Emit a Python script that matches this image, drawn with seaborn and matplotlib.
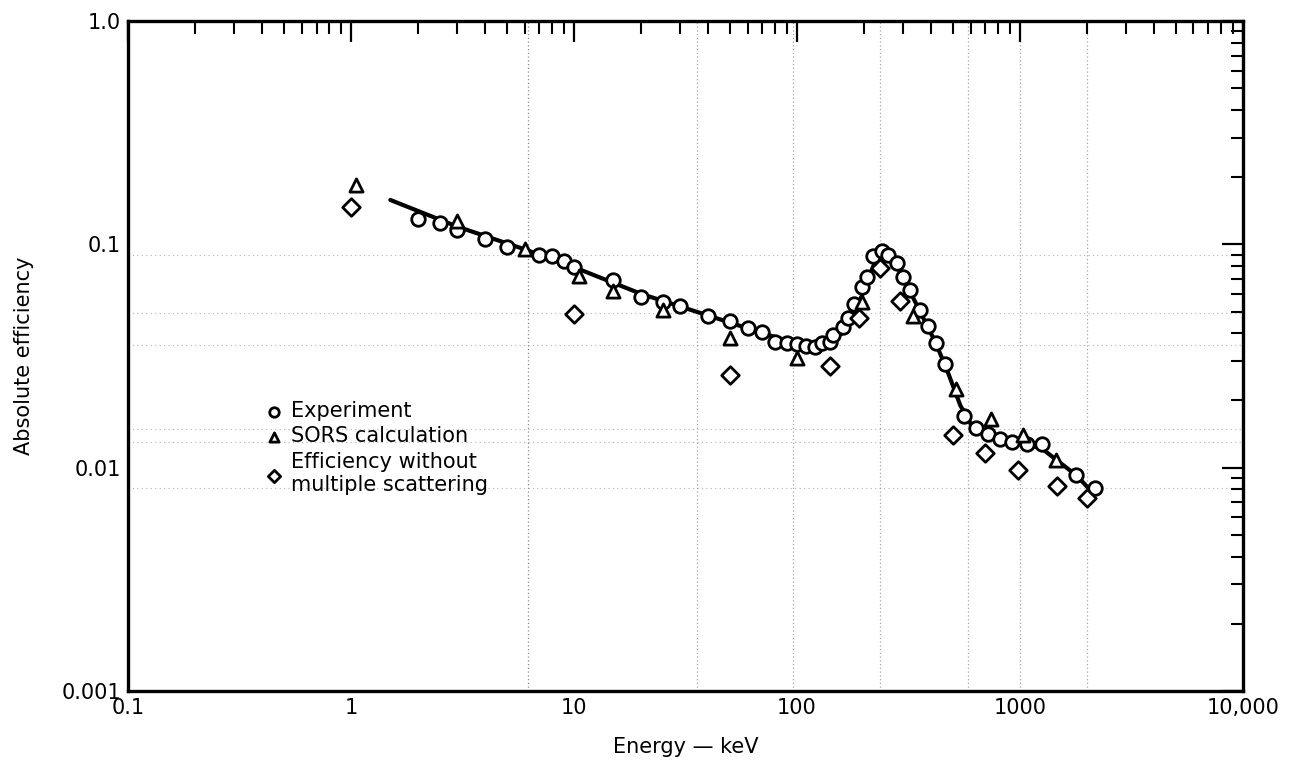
import numpy as np
import pandas as pd
import seaborn as sns
import matplotlib.pyplot as plt
from matplotlib.ticker import FixedLocator, FixedFormatter, LogLocator, NullFormatter

# === data (energy in keV, absolute efficiency) ===
exp_e = [2, 2.5, 3, 4, 5, 7, 8, 9, 10, 15, 20, 25, 30, 40, 50, 60, 70, 80, 90,
         100, 110, 120, 130, 140, 145, 160, 170, 180, 195, 205, 220, 240, 255,
         280, 300, 320, 355, 385, 420, 460, 560, 635, 720, 810, 920, 1070, 1250,
         1780, 2170]
exp_eff = [0.13, 0.124, 0.116, 0.106, 0.097, 0.090, 0.0886, 0.0845, 0.079, 0.069,
           0.058, 0.055, 0.053, 0.048, 0.0455, 0.042, 0.0406, 0.0366, 0.036,
           0.0357, 0.0351, 0.0348, 0.036, 0.0366, 0.0392, 0.0428, 0.0469, 0.054,
           0.0646, 0.0716, 0.0887, 0.0933, 0.0896, 0.0822, 0.0716, 0.0624, 0.0508,
           0.0432, 0.036, 0.029, 0.017, 0.0151, 0.0141, 0.0134, 0.013, 0.0127,
           0.0127, 0.0093, 0.0081]

sors_e = [1.05, 3, 6, 10.5, 15, 25, 50, 100, 195, 330, 515, 745, 1030, 1450]
sors_eff = [0.185, 0.127, 0.095, 0.072, 0.062, 0.051, 0.038, 0.031, 0.055, 0.048,
            0.0225, 0.0166, 0.014, 0.0108]

nms_e = [1.0, 10, 50, 140, 190, 235, 290, 500, 700, 980, 1470, 2000]
nms_eff = [0.147, 0.049, 0.026, 0.0285, 0.047, 0.078, 0.056, 0.014, 0.0116,
           0.0098, 0.0083, 0.0073]

# hand drawn curve through the experiment
curve_e = [1.5, 3, 6, 10, 20, 40, 70, 100, 130, 160, 190, 220, 245, 270, 310, 360,
           420, 480, 540, 600, 700, 850, 1000, 1250, 1500, 1800, 2050]
curve_eff = [0.158, 0.12, 0.095, 0.079, 0.06, 0.048, 0.04, 0.036, 0.0355, 0.040,
             0.055, 0.080, 0.093, 0.086, 0.066, 0.049, 0.036, 0.026, 0.019, 0.0158,
             0.0143, 0.0134, 0.0129, 0.0122, 0.0106, 0.0092, 0.0080]

x_ticks = [0.1, 1, 10, 100, 1000, 10000]
x_labels = ["0.1", "1", "10", "100", "1000", "10,000"]
y_ticks = [0.001, 0.01, 0.1, 1.0]
y_labels = ["0.001", "0.01", "0.1", "1.0"]

# faint lines of the graph paper showing through the scan
paper_x = [6.2, 35.6, 96, 235, 585, 1000, 2000]
paper_y = [0.0896, 0.0492, 0.0354, 0.0149, 0.013, 0.0081]

sns.set_theme(style="white", rc={"text.color": "black", "axes.labelcolor": "black",
                                 "xtick.color": "black", "ytick.color": "black"})
plt.rcParams['font.family'] = ['DejaVu Sans']

fig = plt.figure(figsize=(13.07, 7.69), dpi=100)
ax = fig.add_axes([0.098, 0.1014, 0.853, 0.8713])
ax.set_xscale("log")
ax.set_yscale("log")
ax.set_xlim(0.1, 10000)
ax.set_ylim(0.001, 1.0)

for i, v in enumerate(paper_x):
    ax.axvline(v, color="0.35" if i == 0 else "0.5", lw=0.9, ls=(0, (1, 2)),
               alpha=0.7, zorder=0)
for v in paper_y:
    ax.axhline(v, color="0.5", lw=0.8, ls=(0, (1, 3)), alpha=0.6, zorder=0)

df_curve = pd.DataFrame({"E": curve_e, "eff": curve_eff})
sns.lineplot(data=df_curve, x="E", y="eff", sort=False, color="black", lw=3.0, ax=ax,
             zorder=2)

df_exp = pd.DataFrame({"E": exp_e, "eff": exp_eff})
df_sors = pd.DataFrame({"E": sors_e, "eff": sors_eff})
df_nms = pd.DataFrame({"E": nms_e, "eff": nms_eff})

kw = dict(facecolor="white", edgecolor="black", linewidth=2.0, ax=ax, zorder=3)
sns.scatterplot(data=df_exp, x="E", y="eff", marker="o", s=95, label="Experiment", **kw)
sns.scatterplot(data=df_sors, x="E", y="eff", marker="^", s=90, label="SORS calculation", **kw)
sns.scatterplot(data=df_nms, x="E", y="eff", marker="D", s=80,
                label="Efficiency without\nmultiple scattering", **kw)

ax.xaxis.set_major_locator(FixedLocator(x_ticks))
ax.xaxis.set_major_formatter(FixedFormatter(x_labels))
ax.xaxis.set_minor_locator(LogLocator(base=10, subs=np.arange(2, 10)))
ax.xaxis.set_minor_formatter(NullFormatter())
ax.yaxis.set_major_locator(FixedLocator(y_ticks))
ax.yaxis.set_major_formatter(FixedFormatter(y_labels))
ax.yaxis.set_minor_locator(LogLocator(base=10, subs=np.arange(2, 10)))
ax.yaxis.set_minor_formatter(NullFormatter())

ax.tick_params(which="both", direction="in", top=True, right=True, color="black")
ax.tick_params(which="major", length=15, width=1.6, labelsize=15, pad=5)
ax.tick_params(which="minor", length=9, width=1.5)
for sp in ax.spines.values():
    sp.set_linewidth(2.4)
    sp.set_color("black")

ax.set_xlabel("Energy \u2014 keV", fontsize=15, labelpad=14)
ax.set_ylabel("Absolute efficiency", fontsize=15, labelpad=20)

leg = ax.legend(loc="upper left", bbox_to_anchor=(0.112, 0.445), frameon=False,
                fontsize=15, markerscale=0.7, handletextpad=0.25, labelspacing=0.25,
                handlelength=1.2, borderaxespad=0)

fig.savefig("out.png", dpi=100)
